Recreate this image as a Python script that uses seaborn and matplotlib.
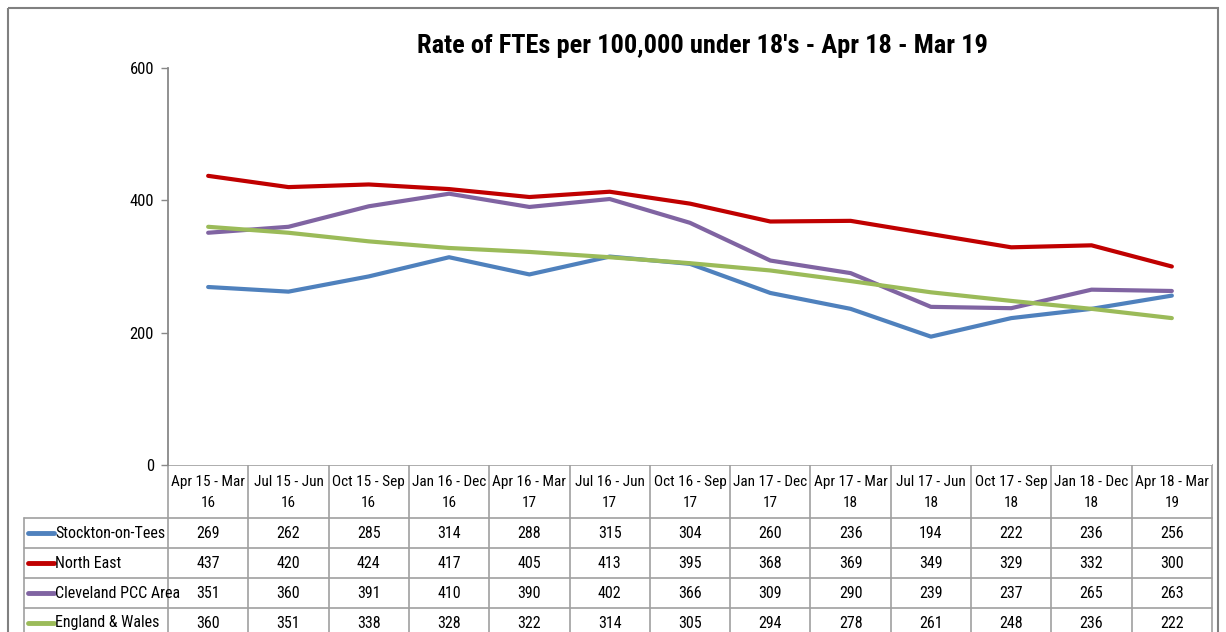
import pandas as pd
import matplotlib.pyplot as plt
import seaborn as sns
from matplotlib.patches import Rectangle
from matplotlib import font_manager

periods = ["Apr 15 - Mar\n16", "Jul 15 - Jun\n16", "Oct 15 - Sep\n16", "Jan 16 - Dec\n16",
           "Apr 16 - Mar\n17", "Jul 16 - Jun\n17", "Oct 16 - Sep\n17", "Jan 17 - Dec\n17",
           "Apr 17 - Mar\n18", "Jul 17 - Jun\n18", "Oct 17 - Sep\n18", "Jan 18 - Dec\n18",
           "Apr 18 - Mar\n19"]
stockton = [269, 262, 285, 314, 288, 315, 304, 260, 236, 194, 222, 236, 256]
north_east = [437, 420, 424, 417, 405, 413, 395, 368, 369, 349, 329, 332, 300]
cleveland = [351, 360, 391, 410, 390, 402, 366, 309, 290, 239, 237, 265, 263]
england_wales = [360, 351, 338, 328, 322, 314, 305, 294, 278, 261, 248, 236, 222]

series_names = ["Stockton-on-Tees", "North East", "Cleveland PCC Area", "England & Wales"]
series_vals = [stockton, north_east, cleveland, england_wales]
colors = ["#4F81BD", "#C00000", "#8064A2", "#9BBB59"]

sns.set_style("white")
installed = {f.name for f in font_manager.fontManager.ttflist}
narrow = [f for f in ["Liberation Sans Narrow", "Roboto Condensed", "Open Sans Condensed",
                      "DejaVu Sans Condensed"] if f in installed]
fam = narrow[0] if narrow else "Liberation Sans"
scale = 1.0 if narrow else 0.85
plt.rcParams['font.family'] = [fam, 'DejaVu Sans']
plt.rcParams['text.color'] = 'black'

rows = []
for name, vals in zip(series_names, series_vals):
    for i, v in enumerate(vals):
        rows.append({"x": i, "value": v, "series": name})
df = pd.DataFrame(rows)

W, H = 1226, 632
fig = plt.figure(figsize=(W / 100, H / 100), dpi=100)

# pixel layout
x0, x1 = 168, 1212
y_top, y_zero = 68, 465
ax = fig.add_axes([x0 / W, 1 - y_zero / H, (x1 - x0) / W, (y_zero - y_top) / H])
sns.lineplot(data=df, x="x", y="value", hue="series", palette=colors, linewidth=3,
             legend=False, ax=ax)
ax.set_xlim(-0.5, len(periods) - 0.5)
ax.set_ylim(0, 600)
ax.set_yticks([0, 200, 400, 600])
ax.set_xticks([])
ax.set_xlabel("")
ax.set_ylabel("")
for s in ["top", "right", "bottom"]:
    ax.spines[s].set_visible(False)
ax.spines["left"].set_color("#888888")
ax.spines["left"].set_linewidth(1.3)
ax.tick_params(axis="y", length=5, width=1, color="#888888", labelsize=12 * scale,
               labelcolor="black", pad=5, left=True)

# overlay axes in pixel coordinates for title, frame and data table
tax = fig.add_axes([0, 0, 1, 1], zorder=-1)
tax.set_xlim(0, W)
tax.set_ylim(H, 0)
tax.axis("off")
tax.add_patch(Rectangle((8, 8), 1210, 640, fill=False, edgecolor="#808080", linewidth=1.5))
tax.text(702, 46, "Rate of FTEs per 100,000 under 18's - Apr 18 - Mar 19", ha="center",
         va="center", fontsize=19 * scale, fontweight="bold")

n = len(periods)
cw = (x1 - x0) / n
hdr_bot = 518
rh = 30
lab_x0 = 24
gc = "#A0A0A0"

# header
for i in range(n + 1):
    tax.plot([x0 + i * cw] * 2, [y_zero, hdr_bot], color=gc, lw=1.2)
tax.plot([x0, x1], [y_zero, y_zero], color=gc, lw=1.2)
for i, p in enumerate(periods):
    tax.text(x0 + (i + 0.5) * cw, (y_zero + hdr_bot) / 2 + 1, p, ha="center", va="center",
             fontsize=11 * scale, linespacing=1.6)

# body
nrows = len(series_names)
tax.plot([lab_x0, x1], [hdr_bot, hdr_bot], color=gc, lw=1.2)
for r in range(nrows):
    yb = hdr_bot + (r + 1) * rh
    tax.plot([lab_x0, x1], [yb, yb], color=gc, lw=1.2)
for xv in [lab_x0] + [x0 + i * cw for i in range(n + 1)]:
    tax.plot([xv, xv], [hdr_bot, hdr_bot + nrows * rh], color=gc, lw=1.2)
for r, (name, vals, c) in enumerate(zip(series_names, series_vals, colors)):
    yc = hdr_bot + (r + 0.5) * rh
    tax.plot([lab_x0 + 4, lab_x0 + 30], [yc, yc], color=c, lw=3.5, solid_capstyle="round")
    tax.text(lab_x0 + 31, yc, name, ha="left", va="center", fontsize=11.5 * scale)
    for i, v in enumerate(vals):
        tax.text(x0 + (i + 0.5) * cw, yc, str(v), ha="center", va="center",
                 fontsize=11.5 * scale)

fig.savefig("out.png", dpi=100)
